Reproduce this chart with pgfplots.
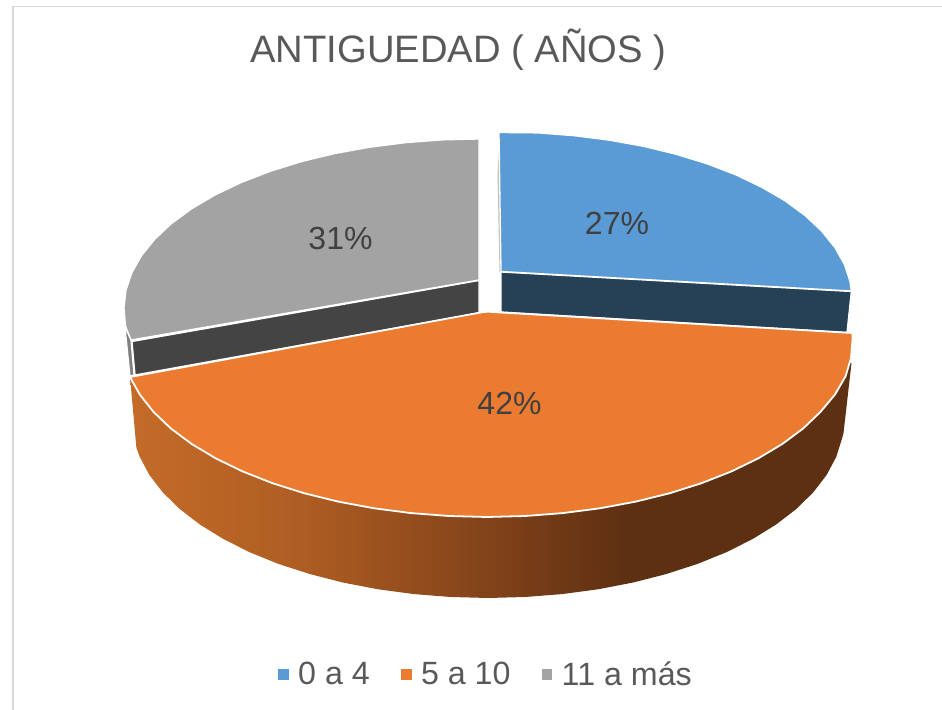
\documentclass[border=0pt]{standalone}
\usepackage{fontspec}
\setmainfont{Liberation Sans}
\usepackage{pgfplots}
\pgfplotsset{compat=1.18}
\definecolor{cblue}{HTML}{5B9BD5}
\definecolor{corange}{HTML}{EB7B30}
\definecolor{cgrey}{HTML}{A3A3A3}
\definecolor{dblue}{HTML}{264056}
\definecolor{dgrey}{HTML}{444444}
\definecolor{txt}{HTML}{595959}
\definecolor{lab}{HTML}{404040}
\definecolor{w1}{HTML}{C46B28}
\definecolor{w2}{HTML}{AE5D23}
\definecolor{w3}{HTML}{7F4119}
\definecolor{w4}{HTML}{5E3012}
\pgfdeclarehorizontalshading{sideshade}{100bp}{color(0bp)=(w1); color(25bp)=(w1); color(37bp)=(w2); color(50.6bp)=(w3); color(59.3bp)=(w4); color(100bp)=(w4)}
\begin{document}
\begin{tikzpicture}
\begin{axis}[
  scale only axis, width=942bp, height=710bp,
  xmin=0, xmax=942, ymin=0, ymax=710, y dir=reverse,
  hide axis, clip=false,
  legend image code/.code={\path[#1, draw=none] (0bp,-5.4bp) rectangle (10.7bp,5.4bp);},
  legend style={draw=none, fill=none, at={(axis cs:278,674.5)}, anchor=west,
    inner sep=0pt, outer sep=0pt, text=txt,
    font=\fontsize{32.2bp}{36bp}\selectfont,
    nodes={inner sep=0pt, outer sep=0pt},
    /tikz/every even column/.append style={column sep=31bp},
    /tikz/every odd column/.append style={column sep=9.5bp}},
  legend columns=3,
]
\path[use as bounding box] (axis cs:0,0) rectangle (axis cs:942,710);
\addlegendimage{draw=none, fill=cblue}
\addlegendimage{draw=none, fill=corange}
\addlegendimage{draw=none, fill=cgrey}

% frame
\addplot[draw=black!15, line width=1.6bp, forget plot] coordinates {(12.7,710) (12.7,6.5) (942,6.5)};

% grey slice: outer wall sliver, cut face, top
\addplot[fill=black!50, draw=white, line width=1.2bp, forget plot] coordinates {(125,327) (131,340) (134,375) (130,376)} -- cycle;
\addplot[fill=dgrey, draw=white, line width=1.3bp, forget plot] coordinates {(132,341.5) (479,280.5) (479,313) (135,375)} -- cycle;
\addplot[fill=cgrey, draw=white, line width=1.3bp, forget plot] coordinates {
 (479,280) (479,139) (441.9,139.9) (405.2,142.7) (369.3,147.3) (334.6,153.6) (301.5,161.6)
 (270.3,171.3) (241.5,182.4) (215.2,194.9) (191.8,208.7) (171.6,223.5) (154.7,239.3)
 (141.4,255.8) (131.8,272.9) (126,290.3) (124,308) (125.5,326) (131,340)} -- cycle;

% blue slice: sliver, cut face, top
\addplot[fill=black!25, draw=none, forget plot] coordinates {(497.5,172) (499,150) (501,272) (499.5,272)} -- cycle;
\addplot[fill=dblue, draw=white, line width=1.3bp, forget plot] coordinates {(501,272) (851.3,291.5) (847,332.5) (501,312)} -- cycle;
\addplot[fill=cblue, draw=white, line width=1.3bp, forget plot] coordinates {
 (501,271.5) (499,132.5) (537.7,132.9) (574,135.7) (609.5,140.2) (643.8,146.4) (676.5,154.4)
 (707.3,163.9) (735.9,174.9) (761.8,187.3) (785,200.8) (805,215.5) (821.6,231.1)
 (834.8,247.4) (844.3,264.3) (850,281.5) (851.3,291)} -- cycle;

% orange wall
\addplot[shade, shading=sideshade, draw=none, forget plot] coordinates {
 (851.5,363) (843.5,433) (842,438.6) (836.2,457) (826.6,475) (813.2,492.4) (796.3,509) (776,524.6)
 (752.5,539.1) (726.2,552.3) (697.3,564) (666,574.1) (632.8,582.6) (598,589.3) (562,594.1)
 (525.2,597) (488,598) (450.8,597) (414,594.1) (378,589.3) (343.2,582.6) (310,574.1)
 (278.7,564) (249.8,552.3) (223.5,539.1) (200,524.6) (179.7,509) (162.8,492.4) (149.4,475)
 (139.8,457) (136.4,447.8) (130,377) (487,400)} -- cycle;

% orange top
\addplot[fill=corange, draw=white, line width=1.8bp, forget plot] coordinates {
 (130,377) (480,312.6) (488,311.6) (497,312.3) (852.5,333) (852.5,340) (851,358) (845.5,376.5) (835,394.5)
 (820.4,412) (803.1,428.5) (782.3,444) (758.2,458.4) (731.2,471.5) (701.5,483.2) (669.5,493.3)
 (635.4,501.7) (599.8,508.3) (562.9,513.1) (525.1,516) (487,517) (448.9,516) (411.1,513.1)
 (374.2,508.3) (338.6,501.7) (304.5,493.3) (272.5,483.2) (242.8,471.5) (215.8,458.4)
 (191.7,444) (170.9,428.5) (153.6,412) (139.9,394.7)} -- cycle;

% labels
\node[anchor=base, text=lab, font=\fontsize{32bp}{36bp}\selectfont, inner sep=0pt] at (axis cs:617,235) {27\%};
\node[anchor=base, text=lab, font=\fontsize{32bp}{36bp}\selectfont, inner sep=0pt] at (axis cs:340.5,250) {31\%};
\node[anchor=base, text=lab, font=\fontsize{32bp}{36bp}\selectfont, inner sep=0pt] at (axis cs:509.5,415) {42\%};
\node[anchor=base, text=txt, font=\fontsize{38.2bp}{44bp}\selectfont, inner sep=0pt] at (axis cs:458.5,63) {ANTIGUEDAD ( AÑOS )};

\addlegendentry{0 a 4}
\addlegendentry{5 a 10}
\addlegendentry{11 a más}
\end{axis}
\end{tikzpicture}
\end{document}
